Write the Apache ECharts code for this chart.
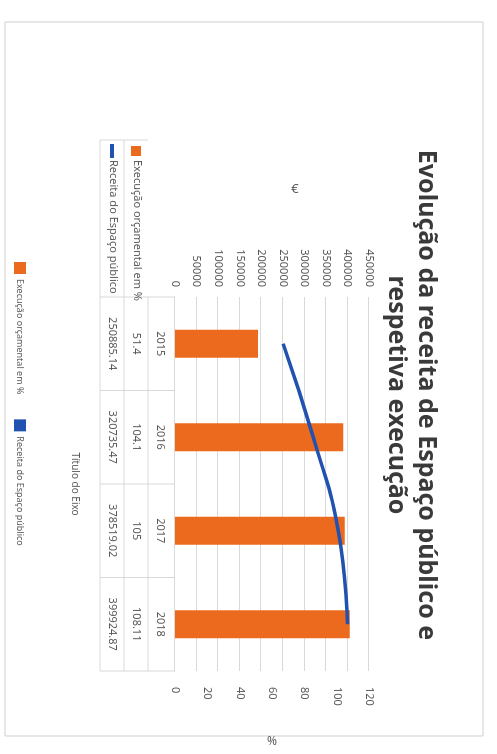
<!DOCTYPE html>
<html>
<head>
<meta charset="utf-8">
<script src="https://cdn.jsdelivr.net/npm/echarts@6/dist/echarts.min.js"></script>
<style>
  html, body { margin: 0; height: 100%; background: #fff; overflow: hidden; }
  /* the scan is turned a quarter clockwise, so the chart is drawn flat and rotated */
  #container { position: absolute; left: 0; top: 0; width: 754px; height: 497px;
    transform-origin: 0 0; transform: translate(497px, 0) rotate(90deg); }
</style>
</head>
<body>
<div id="container"></div>
<script>
var anos = ['2015', '2016', '2017', '2018'];
var execucao = [51.4, 104.1, 105, 108.11];
var receita = [250885.14, 320735.47, 378519.02, 399924.87];
var nomeExec = 'Execução orçamental em %';
var nomeRec = 'Receita do Espaço público';

var laranja = '#ec6a1e';
var azul = '#2152b0';
var cinza = '#d9d9d9';
var fonte = 'Noto Sans';

// plot box (unrotated pixels)
var gL = 297, gR = 671, gT = 128, gB = 322;
var W = 754, H = 497;
var rowH = 24;
var headL = 140;

var dom = document.getElementById('container');
var myChart = echarts.init(dom);

var linhas = [];
function seg(x1, y1, x2, y2) {
    linhas.push({ type: 'line', silent: true,
        shape: { x1: x1, y1: y1, x2: x2, y2: y2 },
        style: { stroke: cinza, lineWidth: 1 } });
}
// data table grid
var cw = (gR - gL) / anos.length;
for (var i = 1; i <= 3; i++) {
    seg(i === 1 ? gL : headL, gB + 3 + rowH * i, gR, gB + 3 + rowH * i);
}
for (var j = 0; j <= anos.length; j++) {
    seg(gL + cw * j, gB, gL + cw * j, gB + 3 + rowH * 3);
}
seg(headL, gB + 3 + rowH, headL, gB + 3 + rowH * 3);

var option = {
    animation: false,
    textStyle: { fontFamily: fonte },
    title: {
        text: 'Evolução da receita de Espaço público e\nrespetiva execução',
        left: 390, top: 51, textAlign: 'center',
        textStyle: { fontSize: 25, fontWeight: 'bold', color: '#3a3a3a', lineHeight: 30, fontFamily: fonte }
    },
    legend: {
        left: 257, top: 466, itemGap: 25, itemWidth: 12, itemHeight: 12,
        textStyle: { fontSize: 9, color: '#595959' },
        data: [
            { name: nomeExec, icon: 'rect' },
            { name: nomeRec, icon: 'rect', itemStyle: { color: azul } }
        ]
    },
    grid: { left: gL, right: W - gR, top: gT, bottom: H - gB },
    xAxis: {
        type: 'category', data: anos,
        name: 'Título do Eixo', nameLocation: 'middle', nameGap: 95,
        nameTextStyle: { fontSize: 10, color: '#595959' },
        axisLine: { lineStyle: { color: cinza } },
        axisTick: { show: false },
        axisLabel: {
            margin: 3, color: '#595959', fontSize: 11, lineHeight: rowH,
            formatter: function (v, idx) {
                return v + '\n' + execucao[idx] + '\n' + receita[idx];
            }
        }
    },
    yAxis: [
        {
            type: 'value', min: 0, max: 450000, interval: 50000,
            axisLabel: { color: '#595959', fontSize: 11, margin: 10, formatter: function (v) { return String(v); } },
            splitLine: { lineStyle: { color: cinza } }
        },
        {
            type: 'value', min: 0, max: 120, interval: 20,
            name: '%', nameLocation: 'middle', nameGap: 62, nameRotate: -90,
            nameTextStyle: { fontSize: 12, color: '#595959' },
            axisLabel: { color: '#595959', fontSize: 11, margin: 16 },
            splitLine: { show: false }
        }
    ],
    series: [
        {
            name: nomeExec, type: 'bar', yAxisIndex: 1, data: execucao,
            barWidth: 28, itemStyle: { color: laranja }
        },
        {
            name: nomeRec, type: 'line', yAxisIndex: 0, data: receita,
            smooth: true, symbol: 'none',
            lineStyle: { color: azul, width: 3.5 }, itemStyle: { color: azul }
        }
    ],
    graphic: linhas.concat([
        { type: 'rect', silent: true, shape: { x: 22, y: 14, width: 714, height: 478 },
          style: { fill: 'none', stroke: '#cfcfcf', lineWidth: 1 } },
        // left axis title
        { type: 'text', silent: true, x: 189, y: 202, rotation: Math.PI / 2,
          style: { text: '€', fontSize: 13, fill: '#595959', fontFamily: fonte, align: 'center', verticalAlign: 'middle' } },
        { type: 'rect', silent: true, shape: { x: headL + 6, y: gB + 3 + rowH + 7, width: 10, height: 10 },
          style: { fill: laranja } },
        { type: 'text', silent: true, left: headL + 20, top: gB + 3 + rowH + 5,
          style: { text: nomeExec, fontSize: 11, fill: '#595959', fontFamily: fonte } },
        { type: 'rect', silent: true, shape: { x: headL + 4, y: gB + 3 + rowH * 2 + 10, width: 14, height: 4 },
          style: { fill: azul } },
        { type: 'text', silent: true, left: headL + 20, top: gB + 3 + rowH * 2 + 5,
          style: { text: nomeRec, fontSize: 11, fill: '#595959', fontFamily: fonte } }
    ])
};
myChart.setOption(option);
</script>
</body>
</html>
